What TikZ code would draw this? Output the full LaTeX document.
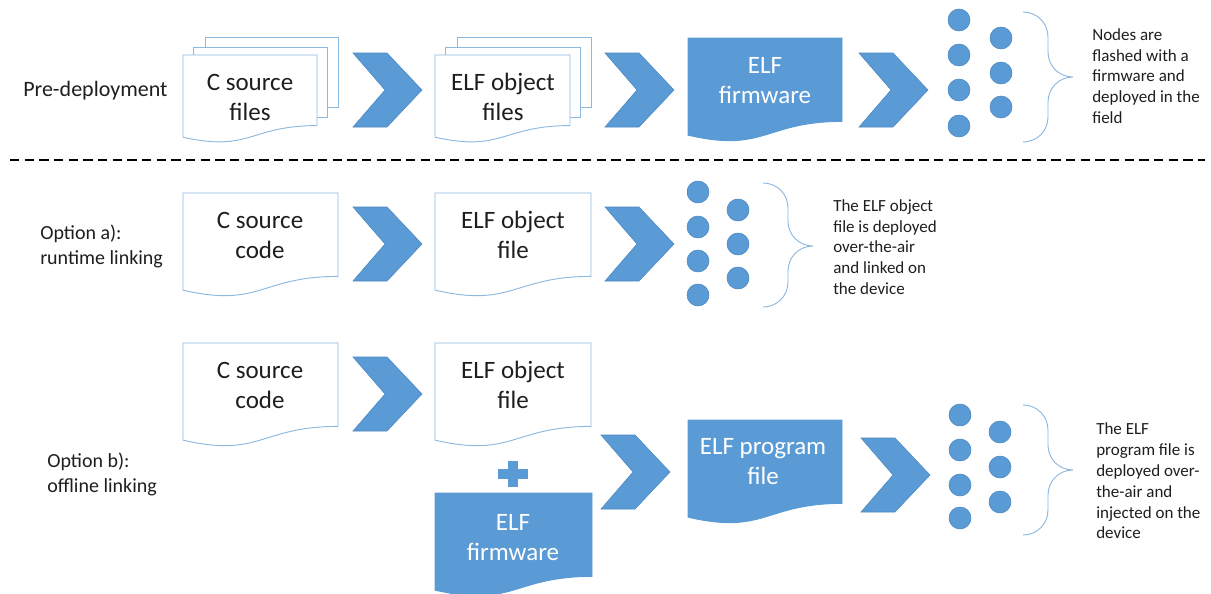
\documentclass[tikz,border=0pt]{standalone}
\usepackage{fontspec}
\setmainfont{Carlito}
\usetikzlibrary{calc}

\definecolor{officeblue}{HTML}{5B9BD5}
\definecolor{edgeblue}{HTML}{4A86C0}
\definecolor{lineblue}{HTML}{8CB9E2}
\definecolor{textgray}{HTML}{1E1E1E}

% document shape: left, top, width, height
\newcommand{\docpath}[4]{(#1,#2) -- ({#1+#3},#2) -- ({#1+#3},{#2+0.802*#4}) .. controls ({#1+#3/2},{#2+0.802*#4}) and ({#1+#3/2},{#2+1.107*#4}) .. (#1,{#2+0.934*#4}) -- cycle}
% chevron: left, top
\newcommand{\chevpath}[2]{(#1,#2) -- ++(34,0) -- ++(35,37) -- ++(-35,37) -- ++(-34,0) -- ++(32,-37) -- cycle}
% brace: left, top, middle, bottom
\newcommand{\bracepath}[4]{(#1,#2) .. controls ({#1+14},#2) and ({#1+25},{#2+11}) .. ({#1+25},{#2+25}) -- ({#1+25},{#3-25}) .. controls ({#1+25},{#3-11}) and ({#1+36},#3) .. ({#1+50},#3) .. controls ({#1+36},#3) and ({#1+25},{#3+11}) .. ({#1+25},{#3+25}) -- ({#1+25},{#4-25}) .. controls ({#1+25},{#4-11}) and ({#1+14},#4) .. (#1,#4)}

\begin{document}
\begin{tikzpicture}[x=0.75pt,y=-0.75pt,
    docline/.style={draw=lineblue,line width=0.7pt,fill=white},
    docfill/.style={draw=officeblue,line width=0.7pt,fill=officeblue},
    chev/.style={draw=edgeblue,line width=0.4pt,fill=officeblue},
    dot/.style={draw=edgeblue,line width=0.4pt,fill=officeblue},
    bracket/.style={draw=lineblue,line width=0.7pt},
    doctext/.style={align=center,text=textgray,font=\fontsize{18.75}{22.5}\selectfont},
    whitetext/.style={align=center,text=white,font=\fontsize{18.75}{22.5}\selectfont},
    sidetext/.style={anchor=west,align=left,inner sep=0pt,text=textgray,font=\fontsize{12.75}{15.6}\selectfont},
    rowlabel/.style={anchor=west,align=left,inner sep=0pt,text=textgray,font=\fontsize{15}{18.75}\selectfont}]
    \useasboundingbox (0,0) rectangle (1211,593);

    % pre-deployment
    \node[rowlabel,font=\fontsize{16.5}{20}\selectfont] (pre) at (23,91) {Pre-deployment};
    \draw[docline] (205,37) rectangle (338,107);
    \draw[docline] (193,47) rectangle (327,117);
    \draw[docline] \docpath{183}{55}{134}{88};
    \node[doctext] (srcfiles) at (250,97) {C source\\files};
    \fill[chev] \chevpath{353}{53};
    \draw[docline] (457,37) rectangle (591,107);
    \draw[docline] (445,47) rectangle (580,117);
    \draw[docline] \docpath{435}{55}{135}{88};
    \node[doctext] (objfiles) at (503,97) {ELF object\\files};
    \fill[chev] \chevpath{605}{53};
    \fill[docfill] \docpath{688}{38}{154}{104};
    \node[whitetext] (fw) at (765,81) {ELF\\firmware};
    \fill[chev] \chevpath{859}{53};
    \foreach \y in {20,55,90,126} \fill[dot] (959,\y) circle[radius=11];
    \foreach \y in {38,73,107} \fill[dot] (1001,\y) circle[radius=11];
    \draw[bracket] \bracepath{1023}{12}{77}{142};
    \node[sidetext] (flashed) at (1092,76) {Nodes are\\flashed with a\\firmware and\\deployed in the\\field};

    \draw[line width=1.5pt,dash pattern=on 7pt off 4pt] (10,160) -- (1205,160);

    % option a
    \node[rowlabel] (opta) at (40,246) {Option a):\\runtime linking};
    \draw[docline] \docpath{183}{193}{155}{104};
    \node[doctext] (srca) at (260,235) {C source\\code};
    \fill[chev] \chevpath{353}{207};
    \draw[docline] \docpath{435}{193}{156}{104};
    \node[doctext] (obja) at (513,235) {ELF object\\file};
    \fill[chev] \chevpath{605}{207};
    \foreach \y in {192,227,261,295} \fill[dot] (698,\y) circle[radius=11];
    \foreach \y in {210,244,278} \fill[dot] (738,\y) circle[radius=11];
    \draw[bracket] \bracepath{763}{183}{246}{307};
    \node[sidetext] (linked) at (833,247) {The ELF object\\file is deployed\\over-the-air\\and linked on\\the device};

    % option b
    \node[rowlabel] (optb) at (47,474) {Option b):\\offline linking};
    \draw[docline] \docpath{183}{343}{155}{104};
    \node[doctext] (srcb) at (260,385) {C source\\code};
    \fill[chev] \chevpath{353}{357};
    \draw[docline] \docpath{435}{343}{156}{104};
    \node[doctext] (objb) at (513,385) {ELF object\\file};
    \fill[officeblue] (498,469) rectangle (528,479);
    \fill[officeblue] (508,461) rectangle (518,487);
    \fill[docfill] \docpath{435}{493}{157}{104};
    \node[whitetext] (fwb) at (513,538) {ELF\\firmware};
    \fill[chev] \chevpath{601}{435};
    \fill[docfill] \docpath{688}{420}{154}{104};
    \node[whitetext] (prog) at (763,462) {ELF program\\file};
    \fill[chev] \chevpath{861}{438};
    \foreach \y in {415,450,485,518} \fill[dot] (960,\y) circle[radius=11];
    \foreach \y in {432,467,502} \fill[dot] (1000,\y) circle[radius=11];
    \draw[bracket] \bracepath{1023}{405}{470}{535};
    \node[sidetext] (injected) at (1096,481) {The ELF\\program file is\\deployed over-\\the-air and\\injected on the\\device};
\end{tikzpicture}
\end{document}
